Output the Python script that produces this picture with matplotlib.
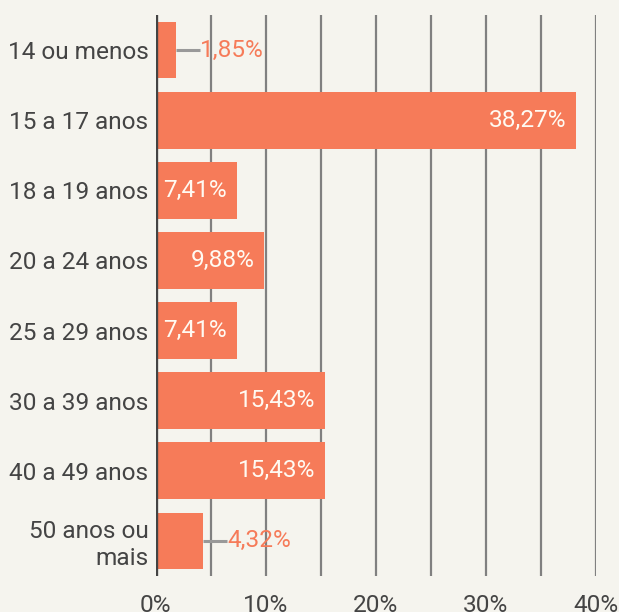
import matplotlib
matplotlib.use("Agg")
import matplotlib.pyplot as plt
from matplotlib.ticker import FuncFormatter
import matplotlib.transforms as mtransforms

# faixas etarias e percentuais
categorias = ["14 ou menos", "15 a 17 anos", "18 a 19 anos", "20 a 24 anos",
              "25 a 29 anos", "30 a 39 anos", "40 a 49 anos", "50 anos ou\nmais"]
valores = [1.85, 38.27, 7.41, 9.88, 7.41, 15.43, 15.43, 4.32]
ticks_x = [0, 10, 20, 30, 40]

fundo = "#f5f4ee"
cor_barra = "#f67b59"

plt.rcParams['font.family'] = ['Roboto', 'DejaVu Sans']

fig = plt.figure(figsize=(6.19, 6.12), dpi=100, facecolor=fundo)
W, H = 619, 612
ax = fig.add_axes([155.5 / W, 1 - 576 / H, 440 / W, 561 / H])
ax.set_facecolor(fundo)

y = list(range(len(categorias)))
ax.barh(y, valores, height=0.81, color=cor_barra, zorder=3)
ax.set_ylim(len(categorias) - 0.5, -0.5)
ax.set_xlim(0, 40)

# grade vertical a cada 5%
for g in range(5, 45, 5):
    ax.axvline(g, color="#808080", lw=1.6, zorder=1)
ax.axvline(0, color="#444444", lw=2.4, zorder=4)

for s in ax.spines.values():
    s.set_visible(False)

ax.set_yticks(y)
ax.set_yticklabels(categorias, fontsize=17.6, color="#444444", ha="right")
ax.set_xticks(ticks_x)
ax.xaxis.set_major_formatter(FuncFormatter(lambda v, p: "%d%%" % v))
ax.tick_params(axis="x", length=0, pad=13, labelsize=17.6, labelcolor="#444444")
ax.tick_params(axis="y", length=0, pad=5)

for i, v in enumerate(valores):
    txt = ("%.2f%%" % v).replace(".", ",")
    if v > 5:
        off = mtransforms.offset_copy(ax.transData, fig=fig, x=-10, y=0, units="dots")
        ax.text(v, i, txt, transform=off, ha="right", va="center",
                fontsize=17.6, color="#fffaf2", zorder=5)
    else:
        ax.plot([v, v + 24 / 11.0], [i, i], color="#999999", lw=2.2, zorder=2,
                solid_capstyle="butt")
        ax.text(v + 24 / 11.0, i, txt, ha="left", va="center",
                fontsize=17.6, color=cor_barra, zorder=5)

fig.savefig("out.png", dpi=100, facecolor=fundo)
